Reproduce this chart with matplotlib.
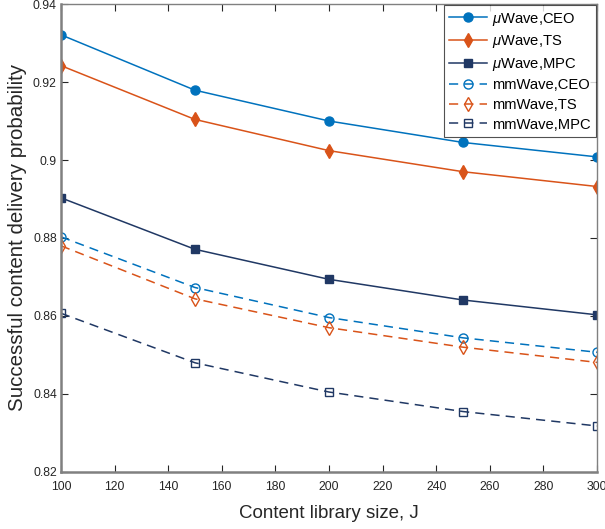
import matplotlib
matplotlib.use("Agg")
import matplotlib.pyplot as plt

plt.rcParams['font.family'] = ['Liberation Sans', 'DejaVu Sans']
plt.rcParams['mathtext.fontset'] = 'custom'
plt.rcParams['mathtext.it'] = 'Liberation Sans:italic'
plt.rcParams['mathtext.rm'] = 'Liberation Sans'

x = [100, 150, 200, 250, 300]
mu_ceo = [0.9321, 0.9179, 0.9100, 0.9045, 0.9008]
mu_ts = [0.9242, 0.9104, 0.9024, 0.8970, 0.8932]
mu_mpc = [0.8903, 0.8771, 0.8694, 0.8641, 0.8603]
mm_ceo = [0.8803, 0.8673, 0.8596, 0.8544, 0.8507]
mm_ts = [0.8780, 0.8644, 0.8570, 0.8520, 0.8481]
mm_mpc = [0.8607, 0.8480, 0.8405, 0.8355, 0.8318]

labels = [r'$\mu$Wave,CEO', r'$\mu$Wave,TS', r'$\mu$Wave,MPC',
          'mmWave,CEO', 'mmWave,TS', 'mmWave,MPC']
xticks = [100, 120, 140, 160, 180, 200, 220, 240, 260, 280, 300]
yticks = [0.82, 0.84, 0.86, 0.88, 0.9, 0.92, 0.94]
ytick_labels = ['0.82', '0.84', '0.86', '0.88', '0.9', '0.92', '0.94']

c1, c2, c3 = '#0072BD', '#D95319', '#203864'

fig = plt.figure(figsize=(6.05, 5.29), dpi=100)
ax = fig.add_axes([0.1008, 0.1078, 0.886, 0.8846])

ax.plot(x, mu_ceo, '-', color=c1, marker='o', ms=6.5, lw=1.1, label=labels[0])
ax.plot(x, mu_ts, '-', color=c2, marker='d', ms=7.5, lw=1.1, label=labels[1])
ax.plot(x, mu_mpc, '-', color=c3, marker='s', ms=5.5, lw=1.1, label=labels[2])
ax.plot(x, mm_ceo, '--', color=c1, marker='o', ms=6.5, mfc='none', lw=1.1,
        dashes=(6, 4), label=labels[3])
ax.plot(x, mm_ts, '--', color=c2, marker='d', ms=7.5, mfc='none', lw=1.1,
        dashes=(6, 4), label=labels[4])
ax.plot(x, mm_mpc, '--', color=c3, marker='s', ms=5.5, mfc='none', lw=1.1,
        dashes=(6, 4), label=labels[5])

ax.set_xlim(100, 300)
ax.set_ylim(0.82, 0.94)
ax.set_xticks(xticks)
ax.set_yticks(yticks)
ax.set_yticklabels(ytick_labels)
ax.tick_params(direction='in', top=True, right=True, length=5, width=0.8,
               labelsize=8.8, colors='#262626', labelcolor='#262626')
ax.tick_params(axis='x', pad=6.3)
ax.tick_params(axis='y', pad=3)
for s in ax.spines.values():
    s.set_color('#808080')
    s.set_linewidth(1.0)
ax.spines['left'].set_linewidth(1.8)
ax.spines['bottom'].set_linewidth(1.8)

ax.set_xlabel('Content library size, J', fontsize=13.5, color='#262626', labelpad=9)
ax.set_ylabel('Successful content delivery probability', fontsize=14.8,
              color='#262626', labelpad=4)

leg = ax.legend(loc='upper right', fontsize=10.6, frameon=True, fancybox=False,
                edgecolor='#262626', handlelength=2.6, borderpad=0.35,
                labelspacing=0.38, handletextpad=0.3, borderaxespad=0.1)
leg.get_frame().set_linewidth(0.8)

fig.savefig('out.png', dpi=100)
